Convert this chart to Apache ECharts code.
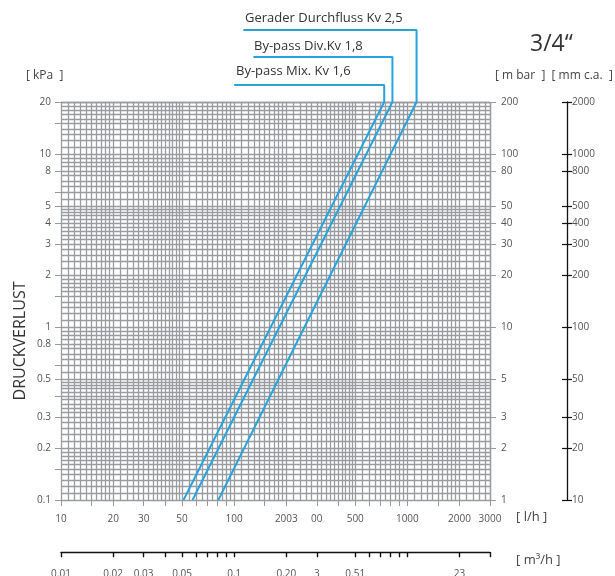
<!DOCTYPE html>
<html><head><meta charset="utf-8">
<script src="https://cdn.jsdelivr.net/npm/echarts@6/dist/echarts.min.js"></script>
<style>html,body{margin:0;padding:0;background:#fff}#c{width:615px;height:576px}</style>
</head><body><div id="c"></div>
<script>
// ---- data ----
const seriesNames = ['By-pass Mix. Kv 1,6', 'By-pass Div.Kv 1,8', 'Gerader Durchfluss Kv 2,5'];
const mixFlow = [51, 735];      // l/h
const divFlow = [57.5, 820];
const strFlow = [81, 1130];
const dpEnds = [0.1, 20];       // kPa
const leaderDp = [25.1, 36.4, 52.2];     // kPa level of the label leader lines
const leaderFlow = [100, 129, 113];      // l/h where the leader lines start

const xLabelVals = [10, 20, 30, 50, 100, 200, 300, 500, 1000, 2000, 3000];
const xLabelText = ['10', '20', '30', '50', '100', '2003', '00', '500', '1000', '2000', '3000'];
const xTickVals = [10, 15, 20, 30, 40, 50, 60, 70, 80, 90, 100, 150, 200, 300, 400, 500, 600, 700, 800, 900, 1000, 1500, 2000, 3000];
const kpaLabels = [20, 10, 8, 5, 4, 3, 2, 1, 0.8, 0.5, 0.3, 0.2, 0.1];
const kpaTicks = [20, 15, 10, 8, 6, 5, 4, 3, 2, 1.5, 1, 0.8, 0.6, 0.5, 0.4, 0.3, 0.2, 0.15, 0.1];
const mbarLabels = [200, 100, 80, 50, 40, 30, 20, 10, 5, 3, 2, 1];
const mmcaLabels = [2000, 1000, 800, 500, 400, 300, 200, 100, 50, 30, 20, 10];
const m3hTicks = [0.01, 0.02, 0.03, 0.04, 0.05, 0.06, 0.07, 0.08, 0.09, 0.1, 0.2, 0.3, 0.5, 0.6, 0.7, 0.8, 0.9, 1, 2, 3];
const m3hLabelVals = [0.01, 0.02, 0.03, 0.05, 0.1, 0.2, 0.3, 0.5, 2];
const m3hLabelText = ['0.01', '0.02', '0.03', '0.05', '0.1', '0.20', '3', '0.51', '23'];
const gridMant = [1, 1.1, 1.2, 1.3, 1.4, 1.5, 1.6, 1.7, 1.8, 1.9, 2, 2.2, 2.4, 2.6, 2.8, 3, 3.2, 3.4, 3.6, 3.8, 4, 4.2, 4.4, 4.6, 4.8, 5, 5.5, 6, 6.5, 7, 7.5, 8, 8.5, 9, 9.5];

// ---- grid lines of the log paper ----
function paper(decades, max) {
  const out = [];
  decades.forEach(d => gridMant.forEach(m => { const v = +(m * d).toFixed(5); if (v <= max) out.push(v); }));
  out.push(max);
  return out;
}
const vLines = paper([10, 100, 1000], 3000);
const hLines = paper([0.1, 1, 10], 20);

const LBL = '#555';
const FONT = '"Open Sans", "Noto Sans", sans-serif';
const BLUE = '#27a4dd';

function lookup(vals, texts) { return v => { const i = vals.findIndex(a => Math.abs(a - v) / a < 1e-6); return i >= 0 ? texts[i] : ''; }; }

function kvSeries(i, flow) {
  return {
    type: 'line', name: seriesNames[i], xAxisIndex: 0, yAxisIndex: 0, clip: false,
    symbol: 'none', silent: true, z: 5,
    lineStyle: { color: BLUE, width: 2 },
    data: [[leaderFlow[i], leaderDp[i]], [flow[1], leaderDp[i]], [flow[1], dpEnds[1]], [flow[0], dpEnds[0]]]
  };
}

const chart = echarts.init(document.getElementById('c'), null, { renderer: 'canvas' });
chart.setOption({
  animation: false,
  textStyle: { fontFamily: FONT },
  grid: [
    { left: 61, top: 102, width: 429, height: 398 },
    { left: 61, top: 552, width: 429, height: 1 }
  ],
  xAxis: [
    { type: 'log', gridIndex: 0, min: 10, max: 3000, logBase: 10,
      axisLine: { show: false }, splitLine: { show: false },
      axisTick: { show: true, customValues: xTickVals, length: 6, lineStyle: { color: '#999', width: 1 } },
      axisLabel: { customValues: xLabelVals, formatter: lookup(xLabelVals, xLabelText), color: LBL, fontSize: 10, margin: 14, fontFamily: FONT } },
    { type: 'log', gridIndex: 1, min: 0.01, max: 3, logBase: 10,
      axisLine: { show: true, lineStyle: { color: '#111', width: 1.3 } }, splitLine: { show: false },
      axisTick: { show: true, customValues: m3hTicks, length: 5, lineStyle: { color: '#111', width: 1.2 } },
      axisLabel: { customValues: m3hLabelVals, formatter: lookup(m3hLabelVals, m3hLabelText), color: LBL, fontSize: 10, margin: 17, fontFamily: FONT } },
    { type: 'log', gridIndex: 1, min: 0.01, max: 3, logBase: 10,
      axisLine: { show: false }, splitLine: { show: false },
      axisTick: { show: true, inside: true, customValues: m3hTicks, length: 5, lineStyle: { color: '#111', width: 1.2 } },
      axisLabel: { show: false } }
  ],
  yAxis: [
    { type: 'log', gridIndex: 0, min: 0.1, max: 20, logBase: 10, position: 'left',
      axisLine: { show: false }, splitLine: { show: false },
      axisTick: { show: true, customValues: kpaTicks, length: 6, lineStyle: { color: '#999', width: 1 } },
      axisLabel: { customValues: kpaLabels, formatter: v => String(v), color: LBL, fontSize: 10, margin: 10, fontFamily: FONT } },
    { type: 'log', gridIndex: 0, min: 1, max: 200, logBase: 10, position: 'right',
      axisLine: { show: false }, splitLine: { show: false },
      axisTick: { show: true, customValues: mbarLabels, length: 6, lineStyle: { color: '#999', width: 1 } },
      axisLabel: { customValues: mbarLabels, formatter: v => String(v), color: LBL, fontSize: 10, margin: 11, fontFamily: FONT } },
    { type: 'log', gridIndex: 0, min: 10, max: 2000, logBase: 10, position: 'right', offset: 77,
      axisLine: { show: true, lineStyle: { color: '#111', width: 1.3 } }, splitLine: { show: false },
      axisTick: { show: true, customValues: mmcaLabels, length: 5, lineStyle: { color: '#111', width: 1.2 } },
      axisLabel: { customValues: mmcaLabels, formatter: v => String(v), color: LBL, fontSize: 10, margin: 5, fontFamily: FONT } },
    { type: 'log', gridIndex: 0, min: 10, max: 2000, logBase: 10, position: 'right', offset: 77,
      axisLine: { show: false }, splitLine: { show: false },
      axisTick: { show: true, inside: true, customValues: mmcaLabels, length: 5, lineStyle: { color: '#111', width: 1.2 } },
      axisLabel: { show: false } },
    { type: 'value', gridIndex: 1, show: false }
  ],
  series: [
    { type: 'line', xAxisIndex: 0, yAxisIndex: 0, data: [], symbol: 'none', silent: true, z: 1,
      markLine: { silent: true, symbol: 'none', animation: false, label: { show: false },
        lineStyle: { color: '#999b9f', width: 1.3, type: 'solid' },
        data: vLines.map(v => ({ xAxis: v })).concat(hLines.map(v => ({ yAxis: v }))) } },
    kvSeries(0, mixFlow),
    kvSeries(1, divFlow),
    kvSeries(2, strFlow)
  ],
  graphic: [
    { type: 'text', left: 245, top: 12, style: { text: seriesNames[2], font: '13px ' + FONT, fill: '#333' } },
    { type: 'text', left: 254, top: 40, style: { text: seriesNames[1], font: '13px ' + FONT, fill: '#333' } },
    { type: 'text', left: 236, top: 65, style: { text: seriesNames[0], font: '13px ' + FONT, fill: '#333' } },
    { type: 'text', left: 530, top: 33, style: { text: '3/4“', font: '23px ' + FONT, fill: '#333' } },
    { type: 'text', left: 26, top: 70, style: { text: '[ kPa  ]', font: '12px ' + FONT, fill: '#444' } },
    { type: 'text', left: 495, top: 70, style: { text: '[ m bar  ]  [ mm c.a.  ]', font: '12px ' + FONT, fill: '#444' } },
    { type: 'text', left: 516, top: 511, style: { text: '[ l/h ]', font: '13px ' + FONT, fill: '#444' } },
    { type: 'text', left: 516, top: 554, style: { text: '[ m³/h ]', font: '13px ' + FONT, fill: '#444' } },
    { type: 'text', x: 20, y: 341, rotation: Math.PI / 2,
      style: { text: 'DRUCKVERLUST', font: '16px ' + FONT, fill: '#333', align: 'center', verticalAlign: 'middle' } }
  ]
});
</script></body></html>
